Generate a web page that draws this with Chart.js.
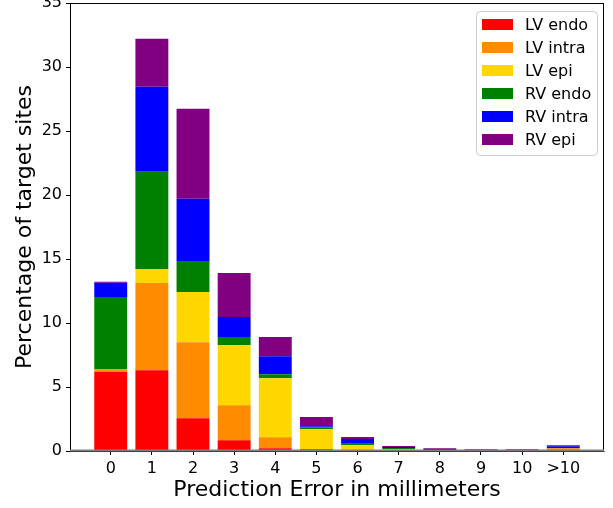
<!DOCTYPE html>
<html>
<head>
<meta charset="utf-8">
<script src="https://cdn.jsdelivr.net/npm/chart.js@4"></script>
<style>
  body { margin: 0; background: #fff; }
  canvas { display: block; }
</style>
</head>
<body>
<canvas id="js-bar-chart" width="613" height="508"></canvas>
<script>
// Error bins (mm)
const categories = ['0', '1', '2', '3', '4', '5', '6', '7', '8', '9', '10', '>10'];

// Percentage of target sites per bin, one array per region
const lvEndo  = [6.18, 6.31, 2.56, 0.84, 0.21, 0.13, 0.03, 0.04, 0.02, 0.00, 0.01, 0.04];
const lvIntra = [0.21, 6.81, 5.94, 2.74, 0.86, 0.03, 0.07, 0.06, 0.03, 0.01, 0.04, 0.17];
const lvEpi   = [0.00, 1.10, 3.92, 4.69, 4.62, 1.54, 0.37, 0.06, 0.01, 0.00, 0.01, 0.00];
const rvEndo  = [5.64, 7.59, 2.42, 0.63, 0.31, 0.16, 0.16, 0.08, 0.02, 0.04, 0.01, 0.01];
const rvIntra = [1.12, 6.65, 4.86, 1.57, 1.41, 0.08, 0.31, 0.07, 0.08, 0.03, 0.01, 0.15];
const rvEpi   = [0.07, 3.75, 7.04, 3.44, 1.49, 0.71, 0.16, 0.08, 0.06, 0.05, 0.05, 0.08];

const yTicks = [0, 5, 10, 15, 20, 25, 30, 35];

const series = [
  { label: 'LV endo',  values: lvEndo,  color: '#FF0000' },
  { label: 'LV intra', values: lvIntra, color: '#FF8C00' },
  { label: 'LV epi',   values: lvEpi,   color: '#FFD700' },
  { label: 'RV endo',  values: rvEndo,  color: '#008000' },
  { label: 'RV intra', values: rvIntra, color: '#0000FF' },
  { label: 'RV epi',   values: rvEpi,   color: '#800080' },
];

const FONT = 'DejaVu Sans';
Chart.defaults.font.family = FONT;
Chart.defaults.color = '#000';

// Frame, grey zero line and an in-plot legend box
const framePlugin = {
  id: 'frame',
  afterDatasetsDraw(chart) {
    const { ctx, chartArea: a, scales } = chart;
    ctx.save();
    ctx.strokeStyle = '#000';
    ctx.lineWidth = 1;
    ctx.strokeRect(a.left + 0.5, a.top + 0.5, a.right - a.left - 1, a.bottom - a.top);
    const y0 = scales.y.getPixelForValue(0);
    ctx.strokeStyle = '#808080';
    ctx.lineWidth = 2;
    ctx.beginPath();
    ctx.moveTo(a.left, y0 - 0.5);
    ctx.lineTo(a.right, y0 - 0.5);
    ctx.stroke();
    ctx.restore();
  },
  afterDraw(chart) {
    const { ctx, chartArea: a } = chart;
    const x = a.right - 128, y = a.top + 8, w = 121, h = 144, r = 4;
    ctx.save();
    ctx.beginPath();
    ctx.roundRect(x + 0.5, y + 0.5, w, h, r);
    ctx.fillStyle = 'rgba(255,255,255,0.8)';
    ctx.fill();
    ctx.strokeStyle = '#cccccc';
    ctx.lineWidth = 1;
    ctx.stroke();
    ctx.font = '16px ' + FONT;
    ctx.textBaseline = 'middle';
    chart.data.datasets.forEach((ds, i) => {
      const cy = y + 13.5 + i * 23;
      ctx.fillStyle = ds.backgroundColor;
      ctx.fillRect(x + 6, cy - 5.5, 31, 11);
      ctx.fillStyle = '#000';
      ctx.fillText(ds.label, x + 49, cy + 1);
    });
    ctx.restore();
  },
};

const config = {
  type: 'bar',
  data: {
    datasets: series.map((s) => ({
      label: s.label,
      data: s.values.map((v, i) => ({ x: i, y: v })),
      backgroundColor: s.color,
      borderWidth: 0,
      barPercentage: 1,
      categoryPercentage: 0.8,
    })),
  },
  options: {
    responsive: false,
    animation: false,
    layout: { padding: { top: 3, right: 9, left: 0, bottom: 0 } },
    plugins: {
      legend: { display: false },
      tooltip: { enabled: false },
    },
    scales: {
      x: {
        type: 'linear',
        offset: false,
        stacked: true,
        min: -0.99,
        max: categories.length - 0.01,
        afterBuildTicks: (axis) => {
          axis.ticks = categories.map((c, i) => ({ value: i }));
        },
        afterFit: (axis) => {
          axis.height = 57;
          axis.paddingLeft = 0;
          axis.paddingRight = 0;
        },
        ticks: {
          font: { size: 16 },
          padding: 4,
          maxRotation: 0,
          autoSkip: false,
          callback: (value) => categories[value],
        },
        grid: { offset: false, drawOnChartArea: false, drawTicks: true, tickLength: 4, color: '#000' },
        border: { display: true, color: '#808080' },
        title: {
          display: true,
          text: 'Prediction Error in millimeters',
          font: { size: 22 },
          padding: { top: 0, bottom: 5 },
        },
      },
      y: {
        stacked: true,
        min: 0,
        max: 35,
        afterBuildTicks: (axis) => {
          axis.ticks = yTicks.map((v) => ({ value: v }));
        },
        afterFit: (axis) => {
          axis.width = 70;
          axis.paddingTop = 0;
          axis.paddingBottom = 0;
        },
        ticks: { font: { size: 16 }, padding: 4 },
        grid: { drawOnChartArea: false, drawTicks: true, tickLength: 4, color: '#000' },
        border: { display: true, color: '#000' },
        title: {
          display: true,
          text: 'Percentage of target sites',
          font: { size: 22 },
          padding: { top: 12, bottom: 0 },
        },
      },
    },
  },
  plugins: [framePlugin],
};

const barChart = new Chart(document.getElementById('js-bar-chart').getContext('2d'), config);
</script>
</body>
</html>
